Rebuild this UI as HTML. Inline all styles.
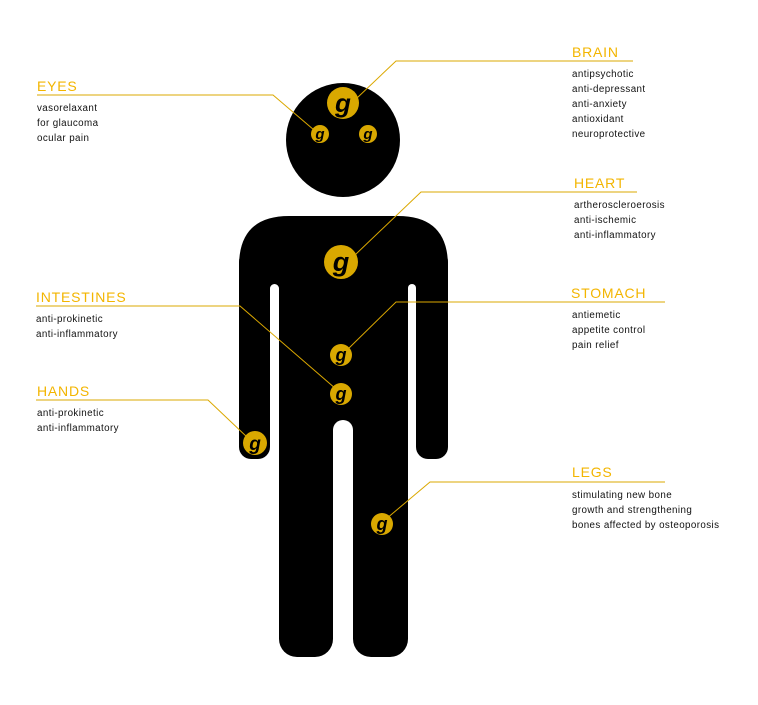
<!DOCTYPE html>
<html><head><meta charset="utf-8"><style>
body{margin:0;background:#fff;width:758px;height:700px;overflow:hidden}
svg text{font-family:"Liberation Sans",sans-serif}
.t{fill:#f3b500;font-size:14px;letter-spacing:0.8px}
.b{fill:#111;font-size:9.8px;letter-spacing:0.4px}
.g{font-family:"Liberation Serif",serif;font-style:italic;font-weight:bold;fill:#000}
</style></head><body>
<svg width="758" height="700" viewBox="0 0 758 700">
<circle cx="343" cy="140" r="57" fill="#000"/>
<path d="M239,266 Q239,216 289,216 L398,216 Q448,216 448,266 L448,300 L239,300Z" fill="#000"/>
<rect x="239" y="250" width="31" height="209" rx="12" fill="#000"/>
<rect x="416" y="250" width="32" height="209" rx="12" fill="#000"/>
<rect x="270" y="250" width="146" height="190" fill="#000"/>
<rect x="279" y="400" width="54" height="257" rx="18" fill="#000"/>
<rect x="353" y="400" width="55" height="257" rx="18" fill="#000"/>
<rect x="270" y="284" width="9" height="200" rx="4.5" fill="#fff"/>
<rect x="408" y="284" width="8" height="200" rx="4" fill="#fff"/>
<rect x="333" y="420" width="20" height="300" rx="10" fill="#fff"/>
<g fill="none" stroke="#dba800" stroke-width="1">
<polyline points="37,95 273,95 314,130"/>
<polyline points="633,61 396,61 357,98"/>
<polyline points="637,192 421,192 355,255"/>
<polyline points="36,306 240,306 336,389"/>
<polyline points="665,302 396,302 346,351"/>
<polyline points="36,400 208,400 248,438"/>
<polyline points="665,482 430,482 386,519"/>
</g>
<g fill="#d9a800">
<circle cx="343" cy="103" r="16"/>
<circle cx="320" cy="134" r="9"/>
<circle cx="368" cy="134" r="9"/>
<circle cx="341" cy="262" r="17"/>
<circle cx="341" cy="355" r="11"/>
<circle cx="341" cy="394" r="11"/>
<circle cx="255" cy="443" r="12"/>
<circle cx="382" cy="524" r="11"/>
</g>
<g class="g" text-anchor="middle">
<text x="343" y="112" font-size="26">g</text>
<text x="320" y="139" font-size="15">g</text>
<text x="368" y="139" font-size="15">g</text>
<text x="341" y="271" font-size="27">g</text>
<text x="341" y="361" font-size="18">g</text>
<text x="341" y="400" font-size="18">g</text>
<text x="255" y="450" font-size="19">g</text>
<text x="382" y="530" font-size="18">g</text>
</g>
<text class="t" x="37" y="91">EYES</text>
<text class="b" x="37" y="111">vasorelaxant</text>
<text class="b" x="37" y="126">for glaucoma</text>
<text class="b" x="37" y="141">ocular pain</text>
<text class="t" x="572" y="57">BRAIN</text>
<text class="b" x="572" y="77">antipsychotic</text>
<text class="b" x="572" y="92">anti-depressant</text>
<text class="b" x="572" y="107">anti-anxiety</text>
<text class="b" x="572" y="122">antioxidant</text>
<text class="b" x="572" y="137">neuroprotective</text>
<text class="t" x="574" y="188">HEART</text>
<text class="b" x="574" y="208">artheroscleroerosis</text>
<text class="b" x="574" y="223">anti-ischemic</text>
<text class="b" x="574" y="238">anti-inflammatory</text>
<text class="t" x="36" y="302">INTESTINES</text>
<text class="b" x="36" y="322">anti-prokinetic</text>
<text class="b" x="36" y="337">anti-inflammatory</text>
<text class="t" x="571" y="298">STOMACH</text>
<text class="b" x="572" y="318">antiemetic</text>
<text class="b" x="572" y="333">appetite control</text>
<text class="b" x="572" y="348">pain relief</text>
<text class="t" x="37" y="396">HANDS</text>
<text class="b" x="37" y="416">anti-prokinetic</text>
<text class="b" x="37" y="431">anti-inflammatory</text>
<text class="t" x="572" y="477">LEGS</text>
<text class="b" x="572" y="498">stimulating new bone</text>
<text class="b" x="572" y="513">growth and strengthening</text>
<text class="b" x="572" y="528">bones affected by osteoporosis</text>
</svg>
</body></html>
